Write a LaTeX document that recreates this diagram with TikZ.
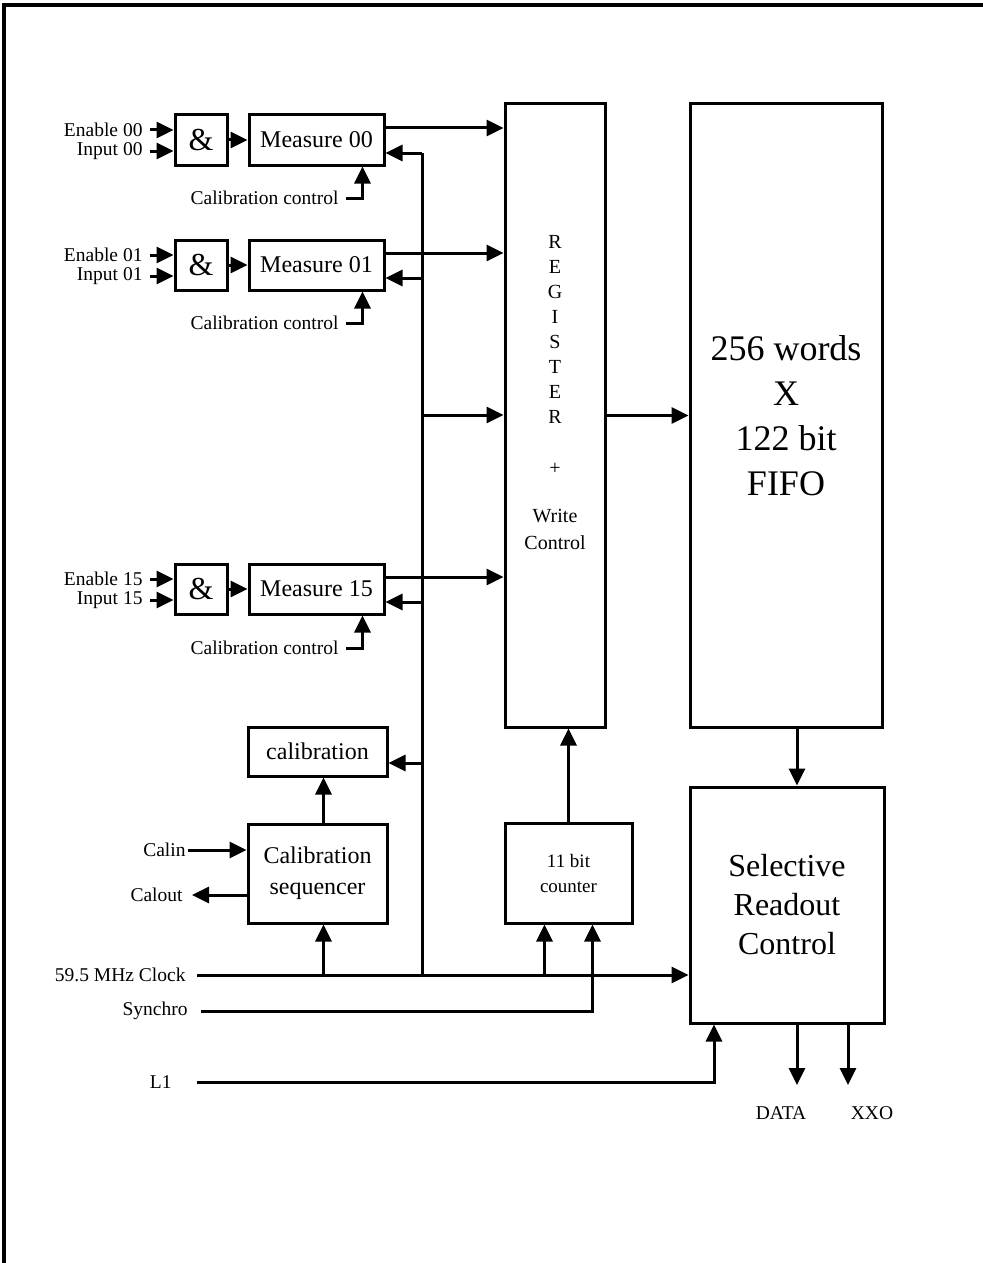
\documentclass[tikz,border=0pt]{standalone}
\usepackage{fontspec}
\setmainfont{Liberation Serif}
\usetikzlibrary{arrows.meta}

\begin{document}
\begin{tikzpicture}[x=0.5pt,y=-0.5pt,line width=1.5pt,
    box/.style={draw,rectangle,inner sep=0pt},
    gate/.style={box,minimum width=26pt,minimum height=25pt,font=\fontsize{16}{18}\selectfont},
    meas/.style={box,minimum width=67.5pt,minimum height=25pt,font=\fontsize{12}{14}\selectfont},
    lbl/.style={font=\fontsize{9.75}{12}\selectfont,inner sep=3pt},
    arr/.style={-{Triangle[length=8.5pt,width=8pt]}}]
  \useasboundingbox (0,0) rectangle (983,1263);
  \draw[line width=2pt] (4,1263) -- (4,5) -- (983,5);

  % channels
  \node[gate] (g00) at (201,140) {\&};
  \node[meas] (m00) at (316.5,140) {Measure 00};
  \node[lbl,anchor=east] (en00) at (150,130) {Enable 00};
  \node[lbl,anchor=east] (in00) at (150,151) {Input 00};
  \node[lbl,anchor=east] (cc00) at (346,198) {Calibration control};

  \node[gate] (g01) at (201,265) {\&};
  \node[meas] (m01) at (316.5,265) {Measure 01};
  \node[lbl,anchor=east] (en01) at (150,255) {Enable 01};
  \node[lbl,anchor=east] (in01) at (150,276) {Input 01};
  \node[lbl,anchor=east] (cc01) at (346,323) {Calibration control};

  \node[gate] (g15) at (201,589) {\&};
  \node[meas] (m15) at (316.5,589) {Measure 15};
  \node[lbl,anchor=east] (en15) at (150,579) {Enable 15};
  \node[lbl,anchor=east] (in15) at (150,600) {Input 15};
  \node[lbl,anchor=east] (cc15) at (346,648) {Calibration control};

  % main blocks
  \node[box,minimum width=50pt,minimum height=311.5pt] (reg) at (555,415.5) {};
  \node[align=center,inner sep=0pt,font=\fontsize{10}{12.5}\selectfont] (regtext) at (555,393)
    {R\\E\\G\\I\\S\\T\\E\\R\\[13pt]+\\[11.5pt]Write\\[1pt]Control};
  \node[box,minimum width=96pt,minimum height=311.5pt,align=center,
    font=\fontsize{18}{22.5}\selectfont] (fifo) at (786,415.5) {256 words\\X\\122 bit\\FIFO};
  \node[box,minimum width=97pt,minimum height=118pt,align=center,
    font=\fontsize{16}{19.5}\selectfont] (sel) at (787,905) {Selective\\Readout\\Control};
  \node[box,minimum width=69.5pt,minimum height=24.5pt,
    font=\fontsize{12}{14}\selectfont] (cal) at (317.5,751.5) {calibration};
  \node[box,minimum width=69.5pt,minimum height=49.5pt,align=center,
    font=\fontsize{12}{15.5}\selectfont] (seq) at (317.5,873.5) {Calibration\\sequencer};
  \node[box,minimum width=63.5pt,minimum height=50pt,align=center,
    font=\fontsize{9.5}{12.5}\selectfont] (cnt) at (568.5,873) {11 bit\\counter};

  % outside signals
  \node[lbl,anchor=east,inner sep=0.5pt] (calin) at (188,850) {Calin};
  \node[lbl,anchor=east,inner sep=4pt] (calout) at (192,895) {Calout};
  \node[lbl,anchor=east,inner sep=5pt] (clk) at (197,975) {59.5 MHz Clock};
  \node[lbl,anchor=east,inner sep=6pt] (syn) at (201,1011) {Synchro};
  \node[lbl,anchor=east,inner sep=12pt] (l1) at (197,1082) {L1};
  \node[lbl] (data) at (781,1113) {DATA};
  \node[lbl] (xxo) at (872,1113) {XXO};
  \coordinate (dataend) at (797,1085);
  \coordinate (xxoend) at (848,1085);

  % calibration bus
  \coordinate (bus00) at (422,153);
  \coordinate (bus01) at (422,278);
  \coordinate (bus15) at (422,602);
  \coordinate (busreg) at (422,415);
  \coordinate (buscal) at (422,763);
  \coordinate (busclk) at (422,975);
  \draw (bus00) -- (busclk);

  \begin{scope}[arr]
    \draw (en00.east) -- (en00.east -| g00.west);
    \draw (in00.east) -- (in00.east -| g00.west);
    \draw (g00) -- (m00);
    \draw ([yshift=6pt]m00.east) -- ([yshift=6pt]m00.east -| reg.west);
    \draw (bus00) -- (bus00 -| m00.east);
    \draw (cc00.east) -| ([xshift=23pt]m00.south);

    \draw (en01.east) -- (en01.east -| g01.west);
    \draw (in01.east) -- (in01.east -| g01.west);
    \draw (g01) -- (m01);
    \draw ([yshift=6pt]m01.east) -- ([yshift=6pt]m01.east -| reg.west);
    \draw (bus01) -- (bus01 -| m01.east);
    \draw (cc01.east) -| ([xshift=23pt]m01.south);

    \draw (en15.east) -- (en15.east -| g15.west);
    \draw (in15.east) -- (in15.east -| g15.west);
    \draw (g15) -- (m15);
    \draw ([yshift=6pt]m15.east) -- ([yshift=6pt]m15.east -| reg.west);
    \draw (bus15) -- (bus15 -| m15.east);
    \draw (cc15.east) -| ([xshift=23pt]m15.south);

    \draw (busreg) -- (busreg -| reg.west);
    \draw (buscal) -- (buscal -| cal.east);
    \draw (reg) -- (fifo);
    \draw (dataend |- fifo.south) -- (dataend |- sel.north);
    \draw (cnt.north) -- (cnt.north |- reg.south);
    \draw ([xshift=3pt]seq.north) -- ([xshift=3pt]cal.south);
    \draw (calin.east) -- (calin.east -| seq.west);
    \draw (calout.east -| seq.west) -- (calout.east);

    \draw (clk.east) -- (clk.east -| sel.west);
    \draw ([xshift=3pt]seq.south |- clk.east) -- ([xshift=3pt]seq.south);
    \draw ([xshift=-12pt]cnt.south |- clk.east) -- ([xshift=-12pt]cnt.south);
    \draw (syn.east) -| ([xshift=12pt]cnt.south);
    \draw (l1.east) -| ([xshift=-36.5pt]sel.south);
    \draw (dataend |- sel.south) -- (dataend);
    \draw (xxoend |- sel.south) -- (xxoend);
  \end{scope}
\end{tikzpicture}
\end{document}
